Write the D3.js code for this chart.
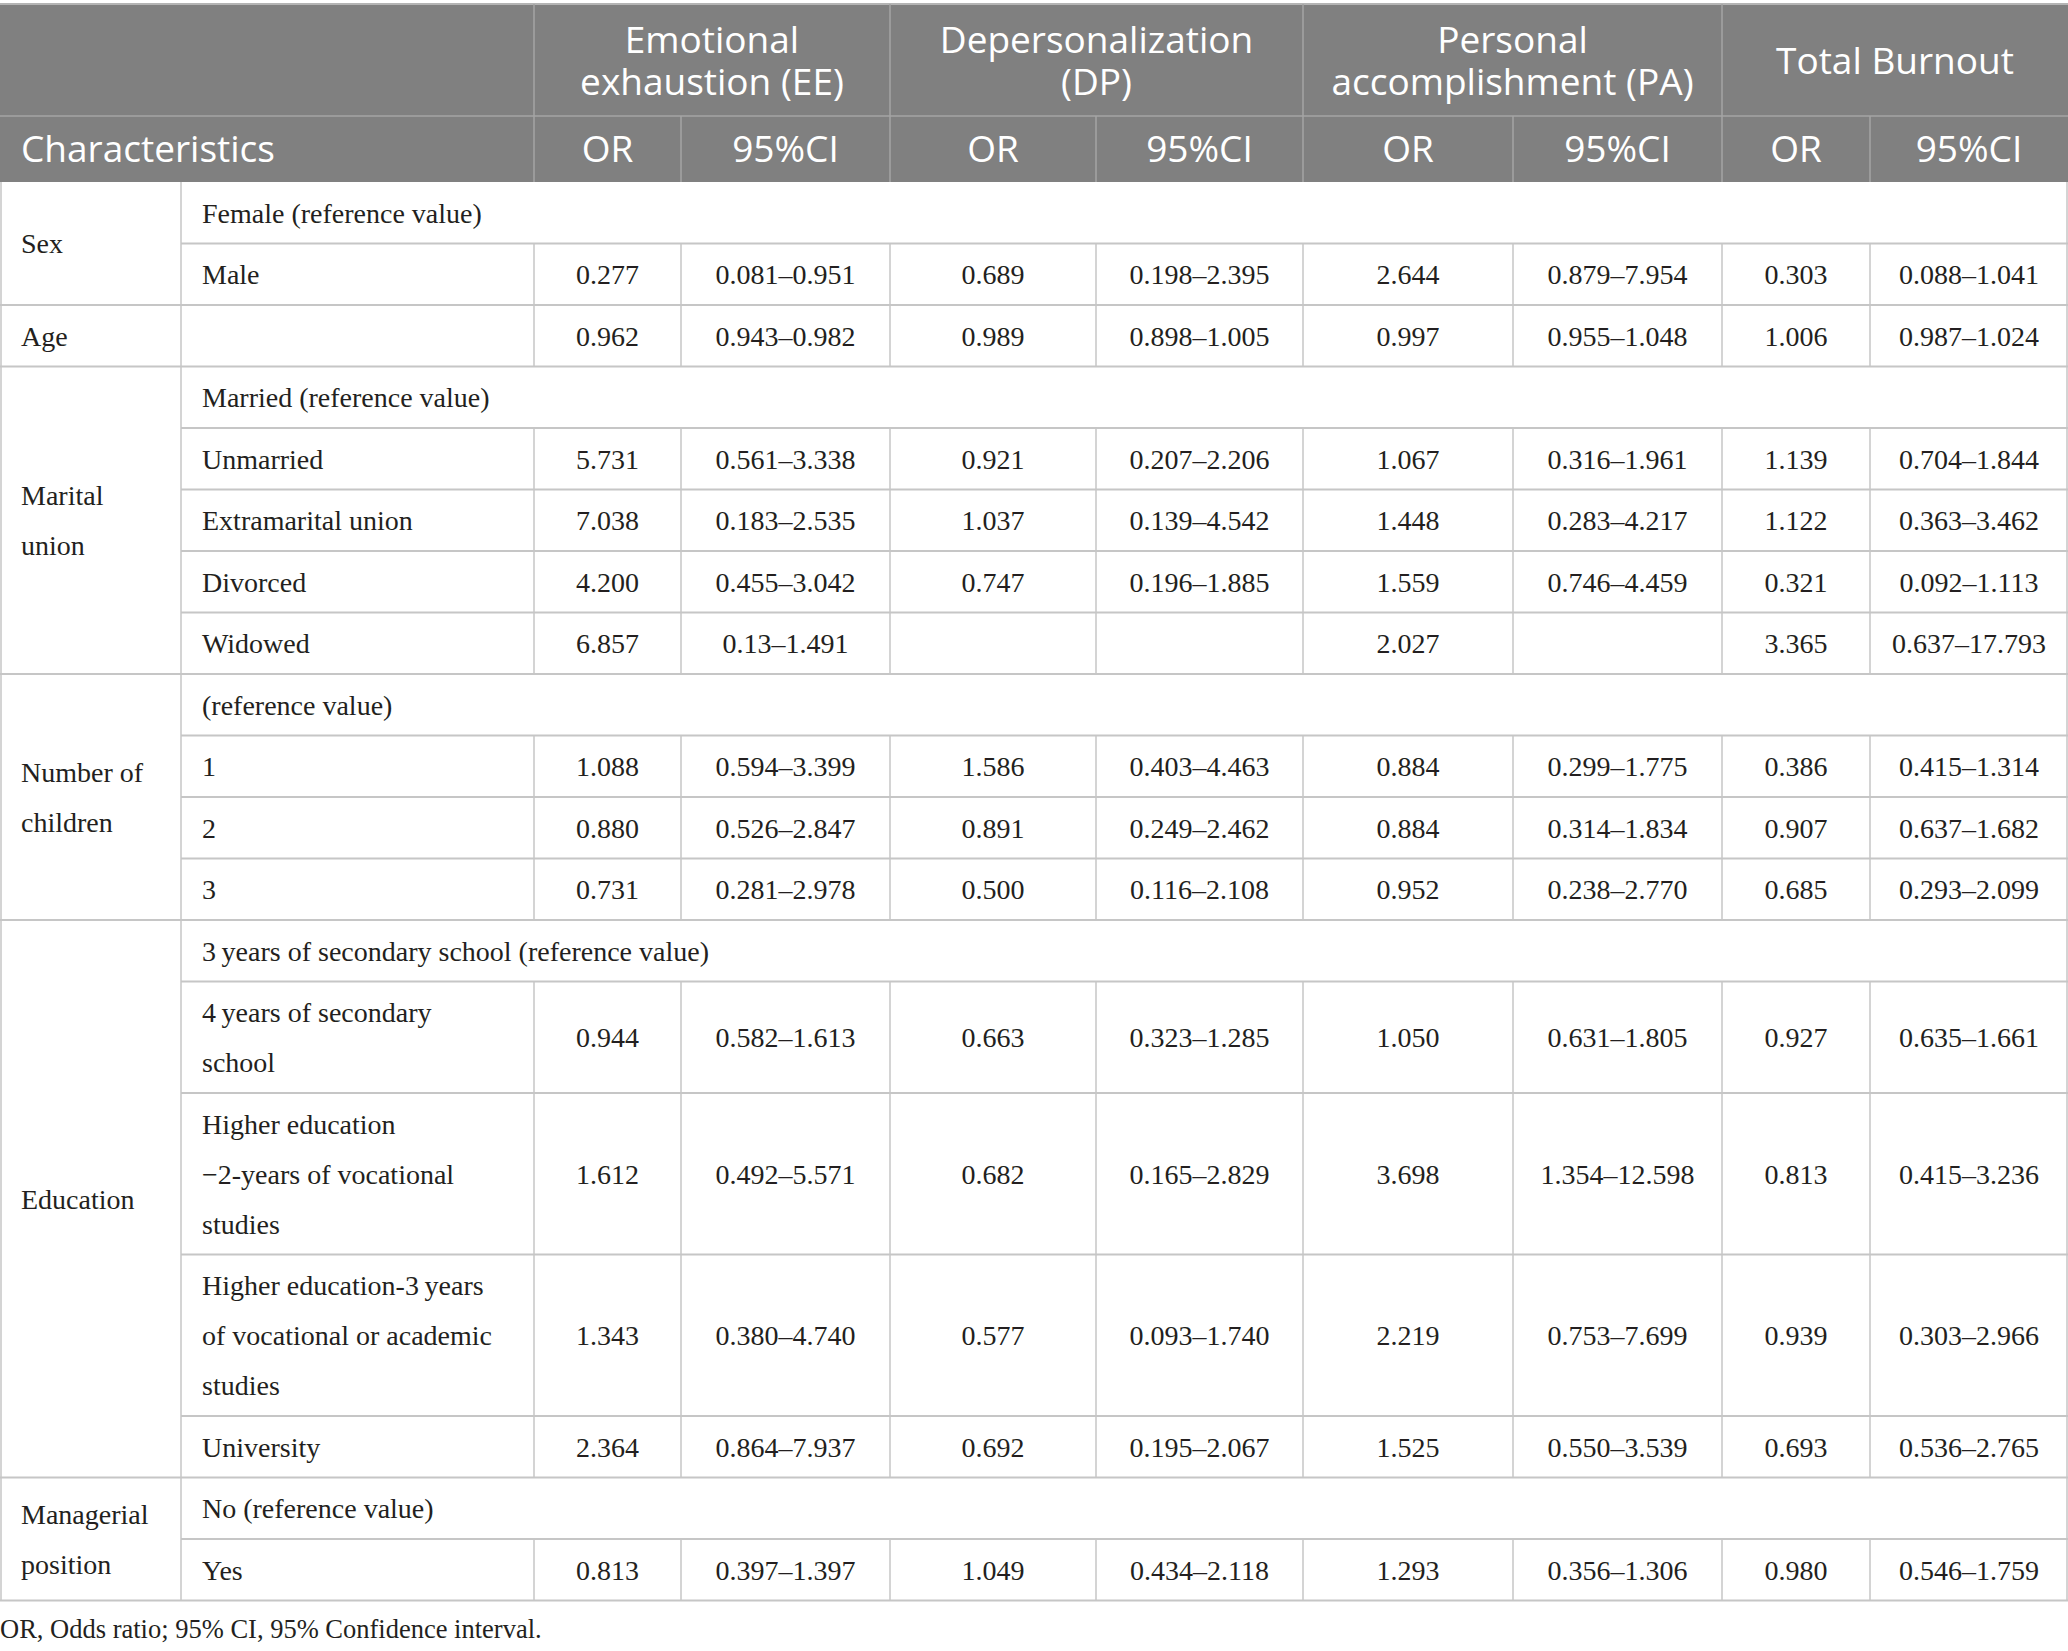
<!DOCTYPE html>
<html>
<head>
<meta charset="utf-8">
<script src="https://cdn.jsdelivr.net/npm/d3@7"></script>
<style>
  body { margin: 0; background: #ffffff; }
</style>
</head>
<body>
<div id="table"></div>
<script>

// header text, one entry per printed line
const groups = [["Emotional", "exhaustion (EE)"], ["Depersonalization", "(DP)"], ["Personal", "accomplishment (PA)"], ["Total Burnout"]];
const subHeads = ["OR", "95%CI"];
const firstHead = "Characteristics";

// row stubs
const categories = [["Sex"], ["Age"], ["Marital", "union"], ["Number of", "children"], ["Education"], ["Managerial", "position"]];
const rowCategory = [0, 0, 1, 2, 2, 2, 2, 2, 3, 3, 3, 3, 4, 4, 4, 4, 4, 5, 5];
const rowLabels = [
  ["Female (reference value)"], ["Male"], [""],
  ["Married (reference value)"], ["Unmarried"], ["Extramarital union"], ["Divorced"], ["Widowed"],
  ["(reference value)"], ["1"], ["2"], ["3"],
  ["3\u2009years of secondary school (reference value)"], ["4\u2009years of secondary", "school"],
  ["Higher education", "\u22122-years of vocational", "studies"],
  ["Higher education-3\u2009years", "of vocational or academic", "studies"], ["University"],
  ["No (reference value)"], ["Yes"]
];
const refRows = [0, 3, 8, 12, 17];

// values (null = reference row, "" = blank cell)
const eeOR = [null, "0.277", "0.962", null, "5.731", "7.038", "4.200", "6.857", null, "1.088", "0.880", "0.731", null, "0.944", "1.612", "1.343", "2.364", null, "0.813"];
const eeCI = [null, "0.081–0.951", "0.943–0.982", null, "0.561–3.338", "0.183–2.535", "0.455–3.042", "0.13–1.491", null, "0.594–3.399", "0.526–2.847", "0.281–2.978", null, "0.582–1.613", "0.492–5.571", "0.380–4.740", "0.864–7.937", null, "0.397–1.397"];
const dpOR = [null, "0.689", "0.989", null, "0.921", "1.037", "0.747", "", null, "1.586", "0.891", "0.500", null, "0.663", "0.682", "0.577", "0.692", null, "1.049"];
const dpCI = [null, "0.198–2.395", "0.898–1.005", null, "0.207–2.206", "0.139–4.542", "0.196–1.885", "", null, "0.403–4.463", "0.249–2.462", "0.116–2.108", null, "0.323–1.285", "0.165–2.829", "0.093–1.740", "0.195–2.067", null, "0.434–2.118"];
const paOR = [null, "2.644", "0.997", null, "1.067", "1.448", "1.559", "2.027", null, "0.884", "0.884", "0.952", null, "1.050", "3.698", "2.219", "1.525", null, "1.293"];
const paCI = [null, "0.879–7.954", "0.955–1.048", null, "0.316–1.961", "0.283–4.217", "0.746–4.459", "", null, "0.299–1.775", "0.314–1.834", "0.238–2.770", null, "0.631–1.805", "1.354–12.598", "0.753–7.699", "0.550–3.539", null, "0.356–1.306"];
const tbOR = [null, "0.303", "1.006", null, "1.139", "1.122", "0.321", "3.365", null, "0.386", "0.907", "0.685", null, "0.927", "0.813", "0.939", "0.693", null, "0.980"];
const tbCI = [null, "0.088–1.041", "0.987–1.024", null, "0.704–1.844", "0.363–3.462", "0.092–1.113", "0.637–17.793", null, "0.415–1.314", "0.637–1.682", "0.293–2.099", null, "0.635–1.661", "0.415–3.236", "0.303–2.966", "0.536–2.765", null, "0.546–1.759"];

const footnote = "OR, Odds ratio; 95% CI, 95% Confidence interval.";

// ---- layout
const W = 2068, H = 1651;
const colWidths = [181, 353, 147, 209, 206, 207, 210, 209, 148, 198];
const colEdges = [0, ...d3.cumsum(colWidths)];
const tableTop = 4, head1Bottom = 116, bodyTop = 182;
const lineH = 50, singleRow = 61.5;
const headFont = "'Open Sans', 'Noto Sans', sans-serif";
const bodyFont = "'Liberation Serif', 'DejaVu Serif', serif";
const headSize = 37, bodySize = 28;
const headFill = "#808080", headLine = "#a4a4a4", gridLine = "#c6c6c6", ink = "#231f20";

const valueCols = [eeOR, eeCI, dpOR, dpCI, paOR, paCI, tbOR, tbCI];

const rowHeights = rowLabels.map(l => singleRow + (l.length - 1) * lineH);
const rowEdges = [bodyTop, ...d3.cumsum(rowHeights).map(v => v + bodyTop)];
const y = i => rowEdges[i];
const bodyBottom = rowEdges[rowEdges.length - 1];

const svg = d3.select("#table").append("svg")
    .attr("width", W)
    .attr("height", H)
    .attr("viewBox", "0 0 " + W + " " + H);

// one text per printed line, the block centred on cy
function lines(g, arr, x, cy, anchor, size, family, fill, step) {
  arr.forEach((s, i) => {
    g.append("text")
      .attr("text-anchor", anchor)
      .attr("font-family", family)
      .attr("font-size", size)
      .attr("fill", fill)
      .attr("x", x)
      .attr("y", cy + (i - (arr.length - 1) / 2) * step + size * 0.35)
      .text(s);
  });
}

// HEADER
// ========================
const head = svg.append("g");

head.append("rect")
    .attr("x", 0).attr("y", tableTop)
    .attr("width", W).attr("height", bodyTop - tableTop)
    .attr("fill", headFill);

head.append("line")
    .attr("x1", 0).attr("x2", W)
    .attr("y1", tableTop).attr("y2", tableTop)
    .attr("stroke", "#b4b4b4").attr("stroke-width", 2);

head.append("line")
    .attr("x1", 0).attr("x2", W)
    .attr("y1", head1Bottom).attr("y2", head1Bottom)
    .attr("stroke", headLine).attr("stroke-width", 1.5);

// group dividers run through both header rows
[2, 4, 6, 8].forEach(c => {
  head.append("line")
      .attr("x1", colEdges[c]).attr("x2", colEdges[c])
      .attr("y1", tableTop).attr("y2", bodyTop)
      .attr("stroke", headLine).attr("stroke-width", 1.5);
});
[3, 5, 7, 9].forEach(c => {
  head.append("line")
      .attr("x1", colEdges[c]).attr("x2", colEdges[c])
      .attr("y1", head1Bottom).attr("y2", bodyTop)
      .attr("stroke", headLine).attr("stroke-width", 1.5);
});

groups.forEach((g, i) => {
  const x0 = colEdges[2 + i * 2], x1 = colEdges[4 + i * 2];
  lines(head, g, (x0 + x1) / 2, (tableTop + head1Bottom) / 2 + 1, "middle", headSize, headFont, "#ffffff", 42);
});

lines(head, [firstHead], 21, (head1Bottom + bodyTop) / 2, "start", headSize, headFont, "#ffffff", 42);

d3.range(8).forEach(k => {
  const x0 = colEdges[2 + k], x1 = colEdges[3 + k];
  lines(head, [subHeads[k % 2]], (x0 + x1) / 2, (head1Bottom + bodyTop) / 2, "middle", headSize, headFont, "#ffffff", 42);
});

// BODY
// ========================
const body = svg.append("g");

// horizontal rules
rowLabels.forEach((l, i) => {
  const sameCat = i < rowLabels.length - 1 && rowCategory[i + 1] === rowCategory[i];
  body.append("line")
      .attr("x1", sameCat ? colEdges[1] : 0).attr("x2", W)
      .attr("y1", y(i + 1)).attr("y2", y(i + 1))
      .attr("stroke", gridLine).attr("stroke-width", 2);
});

// vertical rules
[1, colEdges[1], W - 1].forEach(x => {
  body.append("line")
      .attr("x1", x).attr("x2", x)
      .attr("y1", bodyTop).attr("y2", bodyBottom)
      .attr("stroke", gridLine).attr("stroke-width", 1.5);
});
rowLabels.forEach((l, i) => {
  if (refRows.includes(i)) return;
  d3.range(2, 10).forEach(c => {
    body.append("line")
        .attr("x1", colEdges[c]).attr("x2", colEdges[c])
        .attr("y1", y(i)).attr("y2", y(i + 1))
        .attr("stroke", gridLine).attr("stroke-width", 1.5);
  });
});

// category stubs
categories.forEach((c, k) => {
  const idx = d3.range(rowCategory.length).filter(i => rowCategory[i] === k);
  const top = y(idx[0]), bottom = y(idx[idx.length - 1] + 1);
  lines(body, c, 21, (top + bottom) / 2, "start", bodySize, bodyFont, ink, lineH);
});

// sub labels and values
rowLabels.forEach((l, i) => {
  const cy = (y(i) + y(i + 1)) / 2;
  if (l[0]) lines(body, l, 202, cy, "start", bodySize, bodyFont, ink, lineH);
  valueCols.forEach((col, k) => {
    if (!col[i]) return;
    lines(body, [col[i]], (colEdges[2 + k] + colEdges[3 + k]) / 2, cy, "middle", bodySize, bodyFont, ink, lineH);
  });
});

svg.append("text")
    .attr("x", 0)
    .attr("y", 1638)
    .attr("font-family", bodyFont)
    .attr("font-size", 26.5)
    .attr("fill", ink)
    .text(footnote);

</script>
</body>
</html>
